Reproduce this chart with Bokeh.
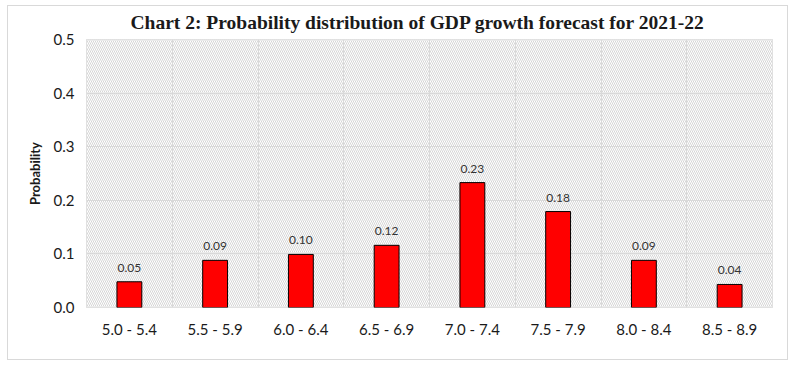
from bokeh.plotting import figure
from bokeh.models import (ColumnDataSource, BoxAnnotation, LabelSet, FixedTicker,
                          Range1d, CustomJSTickFormatter)
from bokeh.core.properties import value
from bokeh.embed import file_html
from bokeh.resources import INLINE

categories = ["5.0 - 5.4", "5.5 - 5.9", "6.0 - 6.4", "6.5 - 6.9",
              "7.0 - 7.4", "7.5 - 7.9", "8.0 - 8.4", "8.5 - 8.9"]
probabilities = [0.048, 0.088, 0.099, 0.116, 0.233, 0.179, 0.088, 0.043]
value_labels = ["0.05", "0.09", "0.10", "0.12", "0.23", "0.18", "0.09", "0.04"]
y_ticks = [0.0, 0.1, 0.2, 0.3, 0.4, 0.5]
title_text = "Chart 2: Probability distribution of  GDP growth forecast for 2021-22"
y_title = "Probability"

source = ColumnDataSource(dict(cat=categories, prob=probabilities, lab=value_labels))

p = figure(x_range=categories, y_range=Range1d(0, 0.5), width=781, height=355,
           output_backend="svg", toolbar_location=None,
           title=title_text,
           min_border_left=78, min_border_right=17, min_border_top=33, min_border_bottom=54)
p.styles = {"margin-left": "7px", "margin-top": "5px", "border": "1px solid #d9d9d9"}

grid_col = "#d9d9d9"
p.outline_line_color = grid_col
p.background_fill_color = "white"

# hatched plot area
bg = BoxAnnotation(fill_color="white", fill_alpha=1.0, line_color=None,
                   hatch_pattern="left_diagonal_line", hatch_color="#d6d6d6",
                   hatch_scale=4, hatch_weight=1, level="image")
p.add_layout(bg)

p.ygrid.ticker = FixedTicker(ticks=y_ticks)
p.ygrid.grid_line_color = grid_col
p.xgrid.ticker = FixedTicker(ticks=list(range(len(categories) + 1)))
p.xgrid.grid_line_color = grid_col

p.vbar(x="cat", top="prob", width=0.29, source=source,
       fill_color="#ff0000", line_color="black", line_width=1)

labels = LabelSet(x="cat", y="prob", text="lab", source=source, y_offset=10,
                  text_align="center", text_baseline="alphabetic",
                  text_font=value("Lato"), text_font_size=value("12px"),
                  text_color="#333333")
p.add_layout(labels)

p.yaxis.ticker = FixedTicker(ticks=y_ticks)
p.yaxis.formatter = CustomJSTickFormatter(code="return tick.toFixed(1);")

for ax in (p.xaxis, p.yaxis):
    ax.axis_line_color = None
    ax.major_tick_line_color = None
    ax.minor_tick_line_color = None
    ax.major_label_text_font = "Lato"
    ax.major_label_text_font_size = "15px"
    ax.major_label_text_color = "#1a1a1a"

p.yaxis.major_label_standoff = 6
p.xaxis.major_label_standoff = 6
p.yaxis.axis_label = y_title
p.yaxis.axis_label_text_font = "Lato"
p.yaxis.axis_label_text_font_style = "bold"
p.yaxis.axis_label_text_font_size = "13px"
p.yaxis.axis_label_text_color = "#1a1a1a"
p.yaxis.axis_label_standoff = 8

p.title.align = "left"
p.title.offset = 44
p.title.vertical_align = "top"
p.title.standoff = 10
p.title.text_font = "Liberation Serif"
p.title.text_font_style = "bold"
p.title.text_font_size = "19.5px"
p.title.text_color = "#1a1a1a"

open("out.html", "w").write(file_html(p, INLINE))
